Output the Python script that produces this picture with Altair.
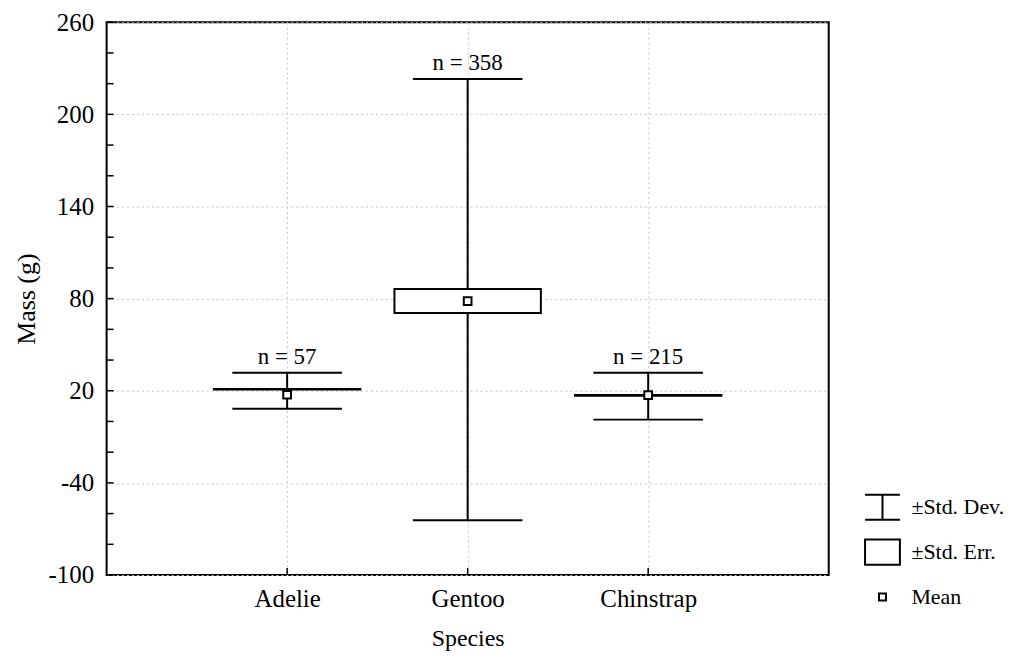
import altair as alt
import pandas as pd

species = ["Adelie", "Gentoo", "Chinstrap"]
means = [17.4, 78.4, 17.2]
sd_lo = [8.3, -64.3, 1.2]
sd_hi = [31.7, 223.0, 31.7]
se_lo = [20.8, 70.6, 16.8]
se_hi = [21.2, 86.2, 17.2]
n_labels = ["n = 57", "n = 358", "n = 215"]
y_ticks = [-100, -40, 20, 80, 140, 200, 260]
y_minor = [-100, -80, -60, -40, -20, 0, 20, 40, 60, 80, 100, 120, 140, 160, 180, 200, 220, 240, 260]
legend_items = ["±Std. Dev.", "±Std. Err.", "Mean"]
legend_paths = [
    "M-1,-0.72H1M0,-0.72V0.72M-1,0.72H1",
    "M-1,-0.72H1V0.72H-1Z",
    "M-0.2,-0.2H0.2V0.2H-0.2Z",
]

FONT = "Liberation Serif"
W, H = 725, 555

df = pd.DataFrame({
    "species": species, "mean": means, "sd_lo": sd_lo, "sd_hi": sd_hi,
    "se_lo": se_lo, "se_hi": se_hi, "n": n_labels, "kind": ["Mean"] * 3,
})
ticks_df = pd.DataFrame({"v": y_minor})
legend_df = pd.DataFrame({"item": legend_items})

xscale = alt.Scale(type="point", domain=species, padding=1.017)
yscale = alt.Scale(domain=[-100, 260], nice=False, zero=False)
shape_scale = alt.Scale(domain=legend_items, range=legend_paths)

base = alt.Chart(df)

x_enc = alt.X("species:N", scale=xscale, sort=species, title="Species",
              axis=alt.Axis(grid=True, gridDash=[2, 3], gridColor="#c4c4c4", gridWidth=1,
                            ticks=False, domain=False, labelAngle=0, labelPadding=12,
                            labelFont=FONT, labelFontSize=25, labelColor="black",
                            titleFont=FONT, titleFontSize=24, titleFontWeight="normal",
                            titleColor="black", titlePadding=15))
y_axis = alt.Axis(values=y_ticks, grid=True, gridDash=[2, 3], gridColor="#c4c4c4", gridWidth=1,
                  ticks=False, domain=False, labelPadding=13, labelFont=FONT, labelFontSize=25,
                  labelColor="black", titleFont=FONT, titleFontSize=26, titleFontWeight="normal",
                  titleColor="black", titlePadding=9,
                  labelExpr="datum.value < 0 ? '-' + abs(datum.value) : '' + datum.value")

stems = base.mark_rule(color="black", strokeWidth=2).encode(
    x=x_enc,
    y=alt.Y("sd_lo:Q", scale=yscale, axis=y_axis, title="Mass (g)"),
    y2="sd_hi:Q",
)
cap_hi = base.mark_tick(color="black", thickness=2, size=110, orient="horizontal", opacity=1).encode(
    x=alt.X("species:N", scale=xscale, sort=species), y=alt.Y("sd_hi:Q", scale=yscale))
cap_lo = base.mark_tick(color="black", thickness=2, size=110, orient="horizontal", opacity=1).encode(
    x=alt.X("species:N", scale=xscale, sort=species), y=alt.Y("sd_lo:Q", scale=yscale))
boxes = base.mark_bar(fill="white", stroke="black", strokeWidth=2, size=147).encode(
    x=alt.X("species:N", scale=xscale, sort=species),
    y=alt.Y("se_lo:Q", scale=yscale), y2="se_hi:Q")
mean_pts = base.mark_point(filled=False, fill="white", color="black", strokeWidth=2,
                           size=1500, opacity=1).encode(
    x=alt.X("species:N", scale=xscale, sort=species),
    y=alt.Y("mean:Q", scale=yscale),
    shape=alt.Shape("kind:N", scale=shape_scale, legend=None),
)
n_text = base.mark_text(font=FONT, fontSize=23, color="black", baseline="bottom", dy=-4).encode(
    x=alt.X("species:N", scale=xscale, sort=species),
    y=alt.Y("sd_hi:Q", scale=yscale), text="n:N")

yticks = alt.Chart(ticks_df).mark_rule(color="black", strokeWidth=1.5).encode(
    y=alt.Y("v:Q", scale=yscale), x=alt.value(0), x2=alt.value(7))
xticks = base.mark_rule(color="black", strokeWidth=1.5).encode(
    x=alt.X("species:N", scale=xscale, sort=species), y=alt.value(H), y2=alt.value(H - 7))

main = alt.layer(stems, boxes, cap_hi, cap_lo, mean_pts, n_text, yticks, xticks).properties(
    width=W, height=H,
)

leg_y = alt.Y("item:N", sort=legend_items, axis=None,
              scale=alt.Scale(type="point", domain=legend_items, range=[487, 577], padding=0))
leg_sym = alt.Chart(legend_df).mark_point(filled=False, fill="white", color="black",
                                          strokeWidth=2, size=1225, opacity=1).encode(
    x=alt.value(33), y=leg_y,
    shape=alt.Shape("item:N", scale=shape_scale, legend=None),
)
leg_txt = alt.Chart(legend_df).mark_text(font=FONT, fontSize=22, color="black",
                                         align="left", baseline="middle").encode(
    x=alt.value(62), y=leg_y, text="item:N")
legend = alt.layer(leg_sym, leg_txt).properties(
    width=150, height=578,
    view=alt.ViewBackground(stroke="transparent", strokeWidth=0),
)

chart = alt.hconcat(main, legend, spacing=20).properties(
    padding={"left": 4, "top": 0, "right": 0, "bottom": 0},
    background="white",
).configure_view(stroke="black", strokeWidth=2)

chart.save("out.html", embed_options={"renderer": "svg", "actions": False})
